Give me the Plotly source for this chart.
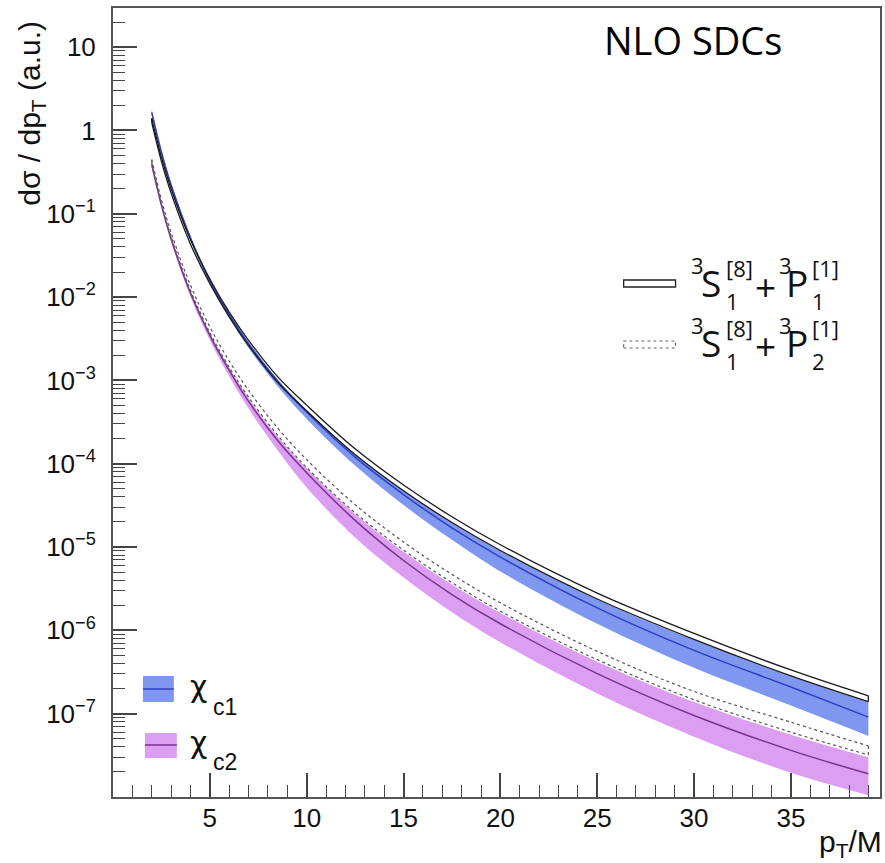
import plotly.graph_objects as go

# ---------------- data ----------------
pT = [2, 2.5, 3, 4, 5, 6, 7, 8.5, 10, 12.5, 15, 17.5, 20, 25, 30, 35, 39]

# 3S1[8] + 3P1[1]  (black outlined band)
p1_hi = [1.40, 0.48, 0.200, 0.049, 0.0165, 6.6e-3, 3.03e-3, 1.11e-3, 5.05e-4, 1.51e-4,
         5.55e-5, 2.31e-5, 1.065e-5, 2.80e-6, 9.2e-7, 3.35e-7, 1.64e-7]
p1_lo = [1.24, 0.425, 0.177, 0.0432, 0.0145, 5.8e-3, 2.62e-3, 9.5e-4, 4.3e-4, 1.29e-4,
         4.73e-5, 1.97e-5, 9.1e-6, 2.38e-6, 7.8e-7, 2.85e-7, 1.40e-7]

# chi_c1 (blue band + central line)
c1_mid = [1.65, 0.55, 0.221, 0.0513, 0.0158, 6.17e-3, 2.75e-3, 9.8e-4, 4.17e-4, 1.20e-4,
          4.27e-5, 1.70e-5, 7.59e-6, 1.86e-6, 5.75e-7, 2.09e-7, 9.1e-8]
c1_hi = [1.78, 0.59, 0.236, 0.0545, 0.0166, 6.4e-3, 2.9e-3, 1.03e-3, 4.45e-4, 1.30e-4,
         4.75e-5, 1.96e-5, 9.0e-6, 2.35e-6, 7.7e-7, 2.82e-7, 1.38e-7]
c1_lo = [1.53, 0.51, 0.205, 0.0475, 0.0146, 5.6e-3, 2.45e-3, 8.5e-4, 3.45e-4, 9.5e-5,
         3.2e-5, 1.22e-5, 5.1e-6, 1.2e-6, 3.55e-7, 1.25e-7, 5.4e-8]

# 3S1[8] + 3P2[1]  (dotted outlined band)
p2_hi = [0.45, 0.148, 0.0595, 0.0139, 4.4e-3, 1.71e-3, 7.6e-4, 2.68e-4, 1.12e-4, 3.23e-5,
         1.15e-5, 4.7e-6, 2.14e-6, 5.6e-7, 1.85e-7, 7.9e-8, 4.1e-8]
p2_lo = [0.405, 0.132, 0.0528, 0.0121, 3.75e-3, 1.44e-3, 6.3e-4, 2.2e-4, 9.0e-5, 2.58e-5,
         9.2e-6, 3.75e-6, 1.70e-6, 4.45e-7, 1.47e-7, 6.0e-8, 3.2e-8]

# chi_c2 (violet band + central line)
c2_mid = [0.389, 0.127, 0.0501, 0.0112, 3.47e-3, 1.32e-3, 5.6e-4, 1.9e-4, 7.8e-5, 2.09e-5,
          6.9e-6, 2.69e-6, 1.20e-6, 3.02e-7, 9.5e-8, 3.63e-8, 1.9e-8]
c2_hi = [0.41, 0.134, 0.053, 0.0119, 3.7e-3, 1.42e-3, 6.1e-4, 2.12e-4, 8.8e-5, 2.5e-5,
         8.8e-6, 3.55e-6, 1.62e-6, 4.2e-7, 1.38e-7, 5.6e-8, 3.0e-8]
c2_lo = [0.36, 0.118, 0.046, 0.0101, 3.05e-3, 1.12e-3, 4.6e-4, 1.45e-4, 5.2e-5, 1.3e-5,
         4.3e-6, 1.65e-6, 7.2e-7, 1.75e-7, 5.3e-8, 1.95e-8, 1.05e-8]

x_ticks = [5, 10, 15, 20, 25, 30, 35]
y_exps = [-7, -6, -5, -4, -3, -2, -1, 0, 1]

# ---------------- styling ----------------
W, H = 885, 863
L, R, T, B = 113, 3, 8, 66
PW, PH = W - L - R, H - T - B
AXF = "Liberation Sans, Arial, sans-serif"
TXF = "Open Sans, DejaVu Sans, sans-serif"
GRK = "DejaVu Sans, sans-serif"
BLUE_FILL = "#7f97ef"
BLUE_LINE = "#2f3fc4"
VIO_FILL = "#dc9ef0"
VIO_LINE = "#7a3290"


def px(xp):
    return (xp - L) / PW


def py(yp):
    return (H - B - yp) / PH


fig = go.Figure()


def band(lo, hi, color):
    fig.add_trace(go.Scatter(x=pT, y=lo, mode="lines", line=dict(width=0, shape="spline"),
                             showlegend=False, hoverinfo="skip"))
    fig.add_trace(go.Scatter(x=pT, y=hi, mode="lines", line=dict(width=0, shape="spline"),
                             fill="tonexty", fillcolor=color, showlegend=False, hoverinfo="skip"))


def outline(lo, hi, color, dash, width):
    ln = dict(color=color, width=width, dash=dash, shape="spline")
    for arr in (lo, hi):
        fig.add_trace(go.Scatter(x=pT, y=arr, mode="lines", line=ln, showlegend=False, hoverinfo="skip"))
    for i in (0, -1):
        fig.add_trace(go.Scatter(x=[pT[i], pT[i]], y=[lo[i], hi[i]], mode="lines",
                                 line=dict(color=color, width=width, dash=dash),
                                 showlegend=False, hoverinfo="skip"))


band(c2_lo, c2_hi, VIO_FILL)
band(c1_lo, c1_hi, BLUE_FILL)
fig.add_trace(go.Scatter(x=pT, y=c2_mid, mode="lines", line=dict(color=VIO_LINE, width=1.5, shape="spline"),
                         showlegend=False, hoverinfo="skip"))
fig.add_trace(go.Scatter(x=pT, y=c1_mid, mode="lines", line=dict(color=BLUE_LINE, width=1.5, shape="spline"),
                         showlegend=False, hoverinfo="skip"))
outline(p2_lo, p2_hi, "#555555", "dot", 1.2)
outline(p1_lo, p1_hi, "#1a1a1a", "solid", 1.3)

# minor tick positions
y_minor = [k * 10.0 ** e for e in range(-8, 2) for k in range(2, 10)]

fig.update_xaxes(
    range=[0, 39.6], showgrid=False, zeroline=False,
    showline=True, mirror=True, linecolor="#555555", linewidth=2,
    tickmode="array", tickvals=x_ticks, ticktext=[str(v) for v in x_ticks],
    ticks="inside", ticklen=24, tickwidth=1.5, tickcolor="#444444",
    tickfont=dict(family=AXF, size=26, color="#111111"),
    ticklabelstandoff=-3,
    minor=dict(tickmode="linear", tick0=0, dtick=1, ticks="inside", ticklen=12,
               tickwidth=1.2, tickcolor="#444444", showgrid=False),
)
fig.update_yaxes(
    type="log", range=[-8, 1.47], showgrid=False, zeroline=False,
    showline=True, mirror=True, linecolor="#555555", linewidth=2,
    tickmode="array", tickvals=[10.0 ** e for e in y_exps],
    ticktext=[("1" if e == 0 else "10" if e == 1 else "10<sup>\u2212%d</sup>" % (-e)) for e in y_exps],
    ticks="inside", ticklen=24, tickwidth=1.5, tickcolor="#444444",
    tickfont=dict(family=AXF, size=26, color="#111111"),
    ticklabelstandoff=10,
    minor=dict(tickmode="array", tickvals=y_minor, ticks="inside", ticklen=12,
               tickwidth=1.2, tickcolor="#444444", showgrid=False),
)

ann = []
# axis titles
ann.append(dict(text="d\u03c3 / dp<sub>T</sub> (a.u.)", xref="paper", yref="paper",
                x=px(31), y=py(19), xanchor="center", yanchor="top", textangle=-90,
                showarrow=False, font=dict(family=AXF, size=30, color="#111111")))
ann.append(dict(text="p<sub>T</sub>/M", xref="paper", yref="paper",
                x=px(819), y=py(843), xanchor="left", yanchor="middle",
                showarrow=False, font=dict(family=AXF, size=30, color="#111111")))
# NLO SDCs
ann.append(dict(text="NLO SDCs", xref="paper", yref="paper",
                x=px(603), y=py(40), xanchor="left", yanchor="middle",
                showarrow=False, font=dict(family=TXF, size=38, color="#000000")))

# right legend (stacked sub/superscripts)
for row, sub2 in ((0, "1"), (1, "2")):
    dy = 60 * row
    big = dict(family=TXF, size=37, color="#111111")
    small = dict(family=TXF, size=22, color="#111111")
    pieces = [
        ("3", 691, 265, small), ("S", 701, 282, big),
        ("[8]", 726, 268, small), ("1", 726, 301, small),
        ("+", 755, 286, big),
        ("3", 779, 265, small), ("P", 786, 282, big),
        ("[1]", 812, 268, small), (sub2, 812, 301, small),
    ]
    for txt, xx, yy, f in pieces:
        ann.append(dict(text=txt, xref="paper", yref="paper", x=px(xx), y=py(yy + dy),
                        xanchor="left", yanchor="middle", showarrow=False, font=f))

# bottom-left legend
for lab, yc, ys in (("c1", 686, 707), ("c2", 742, 762)):
    ann.append(dict(text="\u03c7", xref="paper", yref="paper", x=px(188), y=py(yc),
                    xanchor="left", yanchor="middle", showarrow=False,
                    font=dict(family=GRK, size=30, color="#111111")))
    ann.append(dict(text=lab, xref="paper", yref="paper", x=px(211), y=py(ys),
                    xanchor="left", yanchor="middle", showarrow=False,
                    font=dict(family=AXF, size=23, color="#111111")))

shapes = [
    # right legend boxes
    dict(type="rect", xref="paper", yref="paper", x0=px(625), x1=px(677), y0=py(287), y1=py(280),
         line=dict(color="#222222", width=1.3), fillcolor="white"),
    dict(type="rect", xref="paper", yref="paper", x0=px(625), x1=px(677), y0=py(348), y1=py(341),
         line=dict(color="#666666", width=1.2, dash="dot"), fillcolor="white"),
    # bottom-left legend boxes
    dict(type="rect", xref="paper", yref="paper", x0=px(143), x1=px(174), y0=py(702), y1=py(676),
         line=dict(width=0), fillcolor=BLUE_FILL),
    dict(type="line", xref="paper", yref="paper", x0=px(143), x1=px(174), y0=py(689), y1=py(689),
         line=dict(color=BLUE_LINE, width=1.5)),
    dict(type="rect", xref="paper", yref="paper", x0=px(145), x1=px(177), y0=py(758), y1=py(733),
         line=dict(width=0), fillcolor=VIO_FILL),
    dict(type="line", xref="paper", yref="paper", x0=px(145), x1=px(177), y0=py(745), y1=py(745),
         line=dict(color=VIO_LINE, width=1.5)),
]

fig.update_layout(
    width=W, height=H, margin=dict(l=L, r=R, t=T, b=B),
    paper_bgcolor="white", plot_bgcolor="white",
    showlegend=False, annotations=ann, shapes=shapes,
)

fig.write_html("out.html")
